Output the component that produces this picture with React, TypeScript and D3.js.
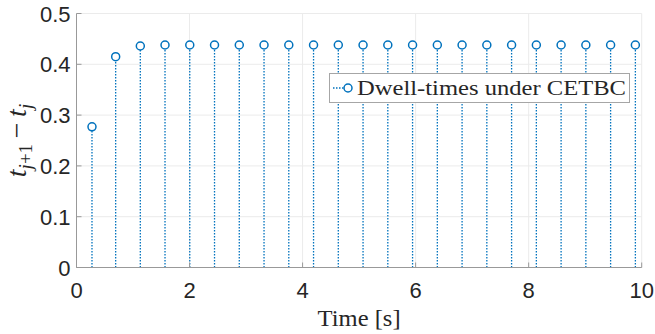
import React from "react";
import * as d3 from "d3";

// switching instants (s) and the dwell time that follows each one
const times = [
  0.274, 0.693, 1.129, 1.566, 2.004, 2.442, 2.88, 3.318, 3.756, 4.194, 4.632, 5.07,
  5.508, 5.946, 6.384, 6.822, 7.26, 7.698, 8.136, 8.574, 9.012, 9.45, 9.888,
];
const dwell = [
  0.277, 0.415, 0.436, 0.438, 0.438, 0.438, 0.438, 0.438, 0.438, 0.438, 0.438, 0.438,
  0.438, 0.438, 0.438, 0.438, 0.438, 0.438, 0.438, 0.438, 0.438, 0.438, 0.438,
];
const xTicks = [0, 2, 4, 6, 8, 10];
const yTicks = [0, 0.1, 0.2, 0.3, 0.4, 0.5];
const legendLabel = "Dwell-times under CETBC";

const W = 655;
const H = 334;
const margin = { left: 76.5, right: 13.3, top: 13.5, bottom: 66.5 };
const blue = "#0072bd";
const axisCol = "#262626";
const sans = "'Liberation Sans', Arial, sans-serif";
const serif = "'Liberation Serif', 'Times New Roman', serif";

export default function App() {
  const x = d3.scaleLinear().domain([0, 10]).range([margin.left, W - margin.right]);
  const y = d3.scaleLinear().domain([0, 0.5]).range([H - margin.bottom, margin.top]);
  const pts = times.map((t, i) => ({ t, v: dwell[i] }));
  const [x0, x1] = x.range();
  const [y0, y1] = y.range();

  return (
    <svg
      width={W}
      height={H}
      style={{ position: "absolute", left: 0, top: 0, background: "#fff" }}
    >
      {/* grid */}
      <g stroke="#ebebeb" strokeWidth={1}>
        {xTicks.map((t) => (
          <line key={`gx${t}`} x1={x(t)} x2={x(t)} y1={y0} y2={y1} />
        ))}
        {yTicks.map((t) => (
          <line key={`gy${t}`} x1={x0} x2={x1} y1={y(t)} y2={y(t)} />
        ))}
      </g>

      {/* stems */}
      <g stroke={blue} strokeWidth={1.3} strokeDasharray="1.5 1.5">
        {pts.map((p, i) => (
          <line key={`s${i}`} x1={x(p.t)} x2={x(p.t)} y1={y(0)} y2={y(p.v) + 4} />
        ))}
      </g>
      <g fill="#fff" stroke={blue} strokeWidth={1.5}>
        {pts.map((p, i) => (
          <circle key={`c${i}`} cx={x(p.t)} cy={y(p.v)} r={4} />
        ))}
      </g>

      {/* axes */}
      <g stroke="#999" strokeWidth={1} fill="none">
        <line x1={x0} x2={x0} y1={y0} y2={y1} />
        <line x1={x0} x2={x1} y1={y0} y2={y0} />
        {xTicks.map((t) => (
          <line key={`tx${t}`} x1={x(t)} x2={x(t)} y1={y0} y2={y0 - 5} />
        ))}
        {yTicks.map((t) => (
          <line key={`ty${t}`} x1={x0} x2={x0 + 5} y1={y(t)} y2={y(t)} />
        ))}
      </g>

      {/* tick labels */}
      <g fontFamily={sans} fontSize={22} fill={axisCol}>
        {xTicks.map((t) => (
          <text key={`lx${t}`} x={x(t)} y={y0 + 30} textAnchor="middle">
            {d3.format("d")(t)}
          </text>
        ))}
        {yTicks.map((t) => (
          <text key={`ly${t}`} x={x0 - 6} y={y(t) + 8} textAnchor="end">
            {t === 0 ? "0" : d3.format(".1f")(t)}
          </text>
        ))}
      </g>

      {/* axis titles */}
      <text
        x={(x0 + x1) / 2}
        y={326}
        textAnchor="middle"
        fontFamily={serif}
        fontSize={23}
        fill={axisCol}
        textLength={83}
        lengthAdjust="spacingAndGlyphs"
      >
        Time [s]
      </text>
      <text
        transform={`translate(26,${(y0 + y1) / 2}) rotate(-90)`}
        textAnchor="middle"
        fontFamily={serif}
        fontSize={28}
        fill={axisCol}
      >
        <tspan fontStyle="italic">t</tspan>
        <tspan fontStyle="italic" fontSize={19} dy={6}>j</tspan>
        <tspan fontSize={19}>+1</tspan>
        <tspan dy={-6}>{"\u2009−\u2009"}</tspan>
        <tspan fontStyle="italic">t</tspan>
        <tspan fontStyle="italic" fontSize={19} dy={6}>j</tspan>
      </text>

      {/* legend */}
      <g>
        <rect x={329.5} y={73.5} width={300} height={29} fill="#fff" stroke="#a6a6a6" strokeWidth={1} />
        <line x1={333} x2={348} y1={88} y2={88} stroke={blue} strokeWidth={1.3} strokeDasharray="1.5 1.5" />
        <circle cx={348} cy={88} r={4} fill="#fff" stroke={blue} strokeWidth={1.5} />
        <text
          x={357}
          y={95}
          fontFamily={serif}
          fontSize={22}
          fill={axisCol}
          textLength={269}
          lengthAdjust="spacingAndGlyphs"
        >
          {legendLabel}
        </text>
      </g>
    </svg>
  );
}
